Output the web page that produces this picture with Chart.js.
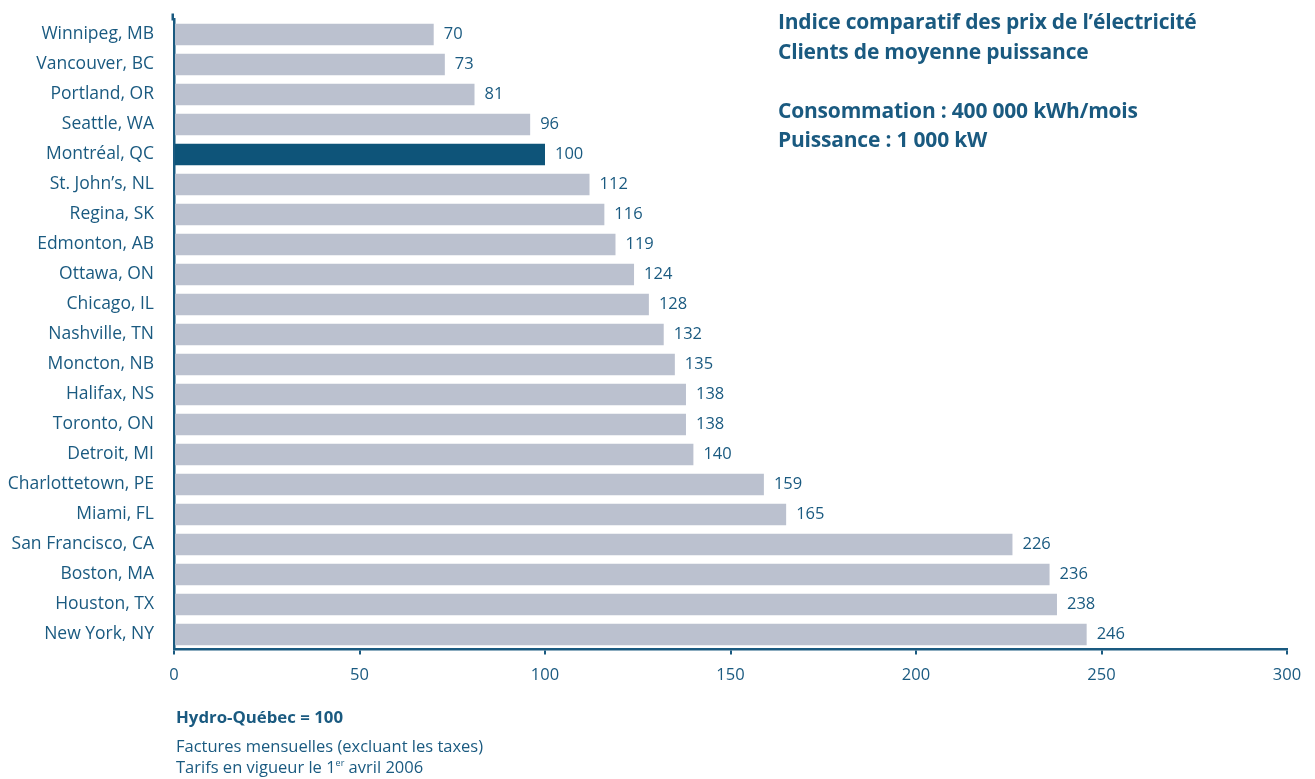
<!DOCTYPE html>
<html>
<head>
<meta charset="utf-8">
<script src="https://cdn.jsdelivr.net/npm/chart.js@4/dist/chart.umd.min.js"></script>
<style>
  body { margin: 0; background: #fff; font-family: "Open Sans", sans-serif; color: #1a5a80; }
  #wrap { position: relative; width: 1315px; height: 779px; }
  .title { position: absolute; left: 778px; top: 7px; font-weight: bold; font-size: 21px; line-height: 29.5px; letter-spacing: -0.2px; }
  .note { position: absolute; left: 176px; top: 706px; font-size: 16.5px; line-height: 21px; }
  .note b { display: block; font-size: 16.8px; margin-bottom: 8px; }
  .note sup { font-size: 9px; line-height: 0; vertical-align: 7px; }
</style>
</head>
<body>
<div id="wrap">
  <canvas id="chart" width="1315" height="779"></canvas>
  <div class="title">
    Indice comparatif des prix de l’électricité<br>
    Clients de moyenne puissance<br><br>
    Consommation : 400 000 kWh/mois<br>
    Puissance : 1 000 kW
  </div>
  <div class="note">
    <b>Hydro-Québec = 100</b>
    Factures mensuelles (excluant les taxes)<br>
    Tarifs en vigueur le 1<sup>er</sup> avril 2006
  </div>
</div>
<script>
const cities = ['Winnipeg, MB', 'Vancouver, BC', 'Portland, OR', 'Seattle, WA', 'Montréal, QC',
    'St. John’s, NL', 'Regina, SK', 'Edmonton, AB', 'Ottawa, ON', 'Chicago, IL', 'Nashville, TN',
    'Moncton, NB', 'Halifax, NS', 'Toronto, ON', 'Detroit, MI', 'Charlottetown, PE', 'Miami, FL',
    'San Francisco, CA', 'Boston, MA', 'Houston, TX', 'New York, NY'];
const indexValues = [70, 73, 81, 96, 100, 112, 116, 119, 124, 128, 132, 135, 138, 138, 140, 159, 165, 226, 236, 238, 246];
const highlightCity = 'Montréal, QC';

const textColor = '#1a5a80';
const barColors = cities.map(c => c === highlightCity ? '#0e5479' : '#bbc1cf');

// value labels at the end of each bar, plus the little axis stub above the first bar
const valueLabels = {
    id: 'valueLabels',
    afterDatasetsDraw(chart) {
        const ctx = chart.ctx;
        const meta = chart.getDatasetMeta(0);
        const yScale = chart.scales.y;
        ctx.save();
        ctx.strokeStyle = textColor;
        ctx.lineWidth = 2.5;
        ctx.beginPath();
        ctx.moveTo(yScale.right - 1.25, yScale.top - 6);
        ctx.lineTo(yScale.right - 1.25, yScale.top + 1);
        ctx.stroke();

        ctx.fillStyle = textColor;
        ctx.font = '16.5px "Open Sans"';
        ctx.textBaseline = 'middle';
        meta.data.forEach((bar, i) => {
            ctx.fillText(indexValues[i], bar.x + 10, bar.y);
        });
        ctx.restore();
    }
};

new Chart(document.getElementById('chart'), {
    type: 'bar',
    data: {
        labels: cities,
        datasets: [{
            data: indexValues,
            backgroundColor: barColors,
            categoryPercentage: 1,
            barPercentage: 0.72
        }]
    },
    options: {
        indexAxis: 'y',
        responsive: false,
        animation: false,
        layout: { padding: { top: 19.5, right: 28, left: 0, bottom: 0 } },
        plugins: { legend: { display: false }, tooltip: { enabled: false } },
        scales: {
            x: {
                min: 0,
                max: 300,
                ticks: { stepSize: 50, color: textColor, font: { family: 'Open Sans', size: 16.5 }, padding: 11 },
                grid: { drawOnChartArea: false, tickLength: 5, color: textColor, lineWidth: 2 },
                border: { color: textColor, width: 2.5 },
                afterFit(scale) { scale.height = 129.5; }
            },
            y: {
                ticks: { color: textColor, font: { family: 'Open Sans', size: 17.5 }, padding: 20 },
                grid: { display: false, drawTicks: false },
                border: { color: textColor, width: 2.5 },
                afterFit(scale) {
                    scale.width = 174;
                    scale.paddingTop = 0;
                    scale.paddingBottom = 0;
                }
            }
        }
    },
    plugins: [valueLabels]
});
</script>
</body>
</html>
